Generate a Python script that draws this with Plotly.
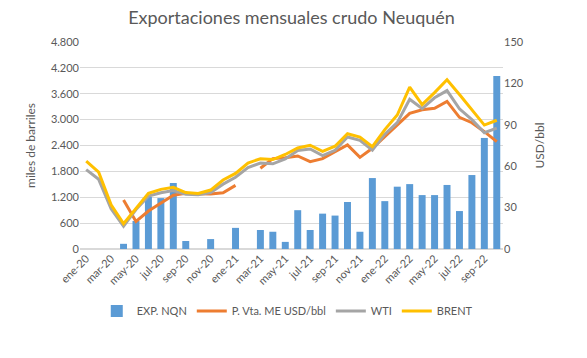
import plotly.graph_objects as go

meses = ["ene","feb","mar","abr","may","jun","jul","ago","sep","oct","nov","dic"]
categorias = [f"{m}-{y}" for y in ["20", "21", "22"] for m in meses][:34]

exp_nqn = [0, 0, 0, 120, 650, 1210, 1180, 1530, 185, 0, 230, 0,
           490, 0, 440, 400, 165, 900, 440, 820, 775, 1090, 400, 1645,
           1110, 1445, 1505, 1250, 1250, 1485, 880, 1715, 2575, 4010]

p_vta_me = [None, None, None, 35.5, 20, 27.5, 33.5, 39, 40.3, 39.9, 39.8, 40.8,
            46.1, None, 58.5, 65.5, 66.2, 67.4, 63.3, 65.5, 70.5, 75.4, 66.4, 73,
            81.4, 89.8, 98.3, 100.9, 102, 107, 95.4, 91.5, 85, 77.8]

wti = [57.5, 50.5, 29.2, 16.6, 28.6, 38.3, 40.7, 42.3, 39.6, 39.4, 40.9, 47.0,
       52.0, 59.0, 62.3, 61.7, 65.2, 71.4, 72.5, 67.7, 71.5, 81.2, 78.7, 71.7,
       83.2, 91.6, 108.5, 101.8, 109.6, 114.8, 101.6, 93.7, 84.3, 87.6]

brent = [63.7, 55.7, 32.0, 18.4, 29.4, 40.3, 43.2, 44.7, 40.9, 40.2, 42.7, 50.0,
         54.8, 62.3, 65.4, 64.8, 68.5, 73.2, 75.2, 70.8, 74.5, 83.5, 81.1, 74.2,
         86.5, 97.1, 117.3, 104.6, 113.3, 122.7, 111.9, 100.5, 89.8, 93.3]

txt = "#595959"
font_family = "Lato, 'Open Sans', sans-serif"

fig = go.Figure()
fig.add_trace(go.Bar(x=categorias, y=exp_nqn, name="EXP. NQN",
                     marker=dict(color="#5B9BD5", line=dict(width=0)), yaxis="y"))
fig.add_trace(go.Scatter(x=categorias, y=p_vta_me, name="P. Vta. ME USD/bbl", mode="lines",
                         line=dict(color="#ED7D31", width=3), yaxis="y2", connectgaps=False))
fig.add_trace(go.Scatter(x=categorias, y=wti, name="WTI", mode="lines",
                         line=dict(color="#A5A5A5", width=3), yaxis="y2"))
fig.add_trace(go.Scatter(x=categorias, y=brent, name="BRENT", mode="lines",
                         line=dict(color="#FFC000", width=3), yaxis="y2"))

fig.update_layout(
    width=587, height=358,
    margin=dict(l=80, r=84, t=42, b=109, autoexpand=False),
    paper_bgcolor="white", plot_bgcolor="white",
    separators=",.",
    font=dict(family=font_family, color=txt, size=11),
    title=dict(text="Exportaciones mensuales crudo Neuquén", x=0.5, xanchor="center",
               xref="paper", y=0.95, yanchor="middle",
               font=dict(size=18, color=txt, family=font_family)),
    bargap=0.44,
    showlegend=True,
    legend=dict(orientation="h", x=0.49, xanchor="center", y=-0.30, yanchor="middle",
                font=dict(size=11, color=txt), traceorder="normal", itemwidth=30,
                tracegroupgap=0),
    xaxis=dict(type="category", tickangle=-45, dtick=2, showgrid=False, ticks="",
               showline=False, automargin=False, tickfont=dict(size=11, color=txt)),
    yaxis=dict(range=[0, 4800], dtick=600, tickformat=",d", showgrid=True,
               gridcolor="#D9D9D9", gridwidth=1, zeroline=True, zerolinecolor="#D9D9D9",
               automargin=False,
               title=dict(text="miles de barriles", font=dict(size=12, color=txt), standoff=12),
               tickfont=dict(size=11, color=txt)),
    yaxis2=dict(range=[0, 150], dtick=30, overlaying="y", side="right", showgrid=False,
                zeroline=False, automargin=False,
                title=dict(text="USD/bbl", font=dict(size=12, color=txt), standoff=12),
                tickfont=dict(size=11, color=txt)),
)

fig.write_html("out.html",
               config={"displayModeBar": False},
               post_script="document.body.style.margin='0';document.body.style.overflow='hidden';")
